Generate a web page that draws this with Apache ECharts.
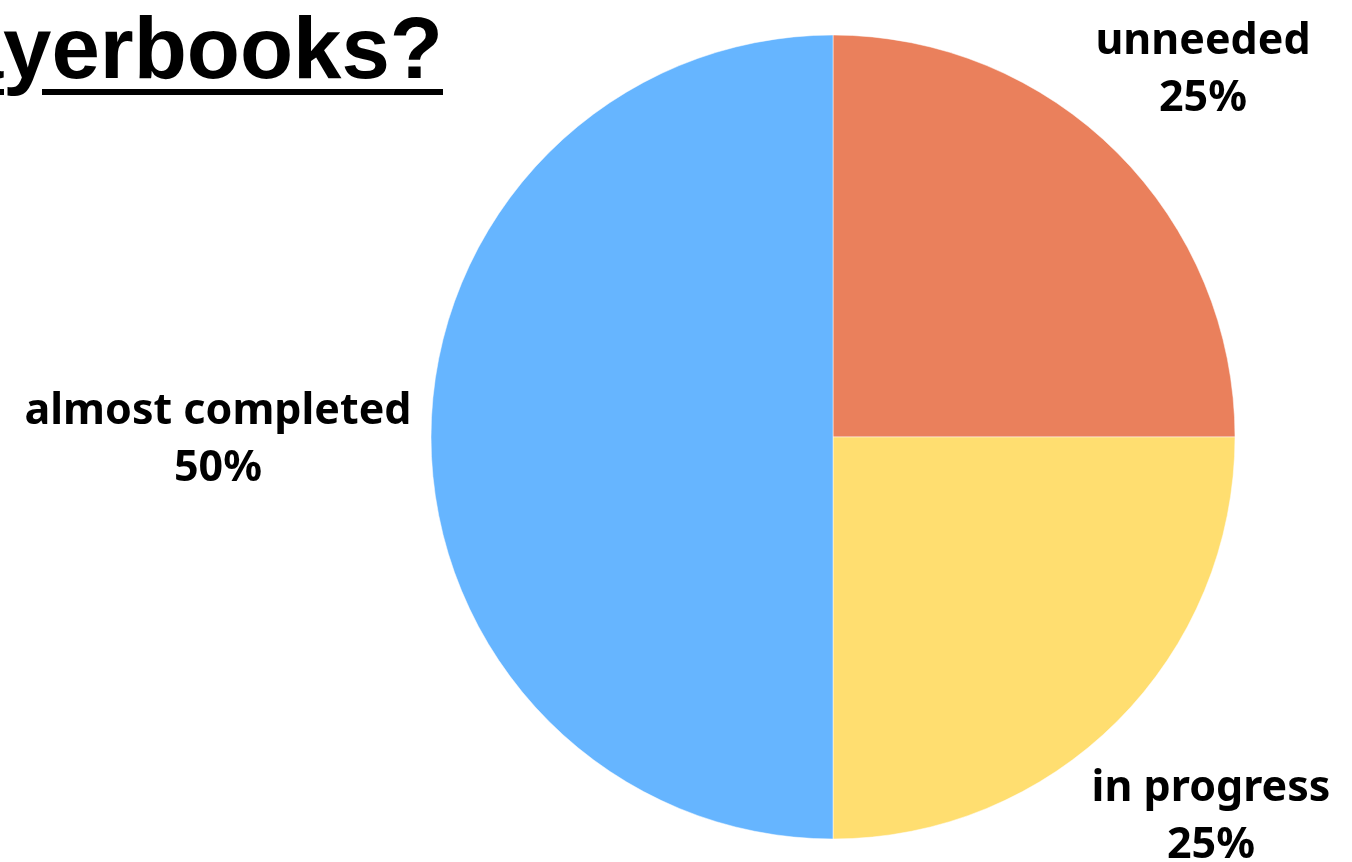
<!DOCTYPE html>
<html>
<head>
<meta charset="utf-8">
<script src="https://cdn.jsdelivr.net/npm/echarts@6/dist/echarts.min.js"></script>
<style>
html,body{margin:0;padding:0;background:#fff;}
#c{width:1352px;height:862px;}
</style>
</head>
<body>
<div id="c"></div>
<script>
const titleText = 'Playerbooks?';
const categories = ['unneeded', 'in progress', 'almost completed'];
const values = [25, 25, 50];
const colors = ['#EA805C', '#FFDE70', '#66B5FF'];
const labelSpots = [[1203, 70], [1211, 817], [218, 440]];

const chart = echarts.init(document.getElementById('c'), null, {renderer: 'canvas'});
chart.setOption({
  animation: false,
  backgroundColor: '#ffffff',
  graphic: [
    {type: 'text', x: 443, y: 98, style: {text: titleText, fill: '#000', font: 'bold 87px "Liberation Sans", Arial, sans-serif', textAlign: 'right', textVerticalAlign: 'bottom'}, z: 10},
    {type: 'rect', shape: {x: 0, y: 89, width: 4, height: 6}, style: {fill: '#000'}, z: 10},
    {type: 'rect', shape: {x: 42, y: 89, width: 401, height: 6}, style: {fill: '#000'}, z: 10}
  ],
  series: [{
    type: 'pie',
    center: [833, 437],
    radius: [0, 402],
    startAngle: 90,
    clockwise: true,
    data: categories.map((n, i) => ({name: n, value: values[i], itemStyle: {color: colors[i]}})),
    itemStyle: {borderColor: '#ffffff', borderWidth: 0.5},
    label: {
      show: true,
      position: 'outside',
      formatter: p => p.name + '\n' + Math.round(p.percent) + '%',
      color: '#000',
      fontFamily: '"Noto Sans", sans-serif',
      fontWeight: 'bold',
      fontSize: 43,
      lineHeight: 57,
      align: 'center',
      overflow: 'none',
      width: 500
    },
    labelLine: {show: false},
    labelLayout: p => ({x: labelSpots[p.dataIndex][0], y: labelSpots[p.dataIndex][1], align: 'center', verticalAlign: 'middle'}),
    emphasis: {disabled: true}
  }]
});
</script>
</body>
</html>
